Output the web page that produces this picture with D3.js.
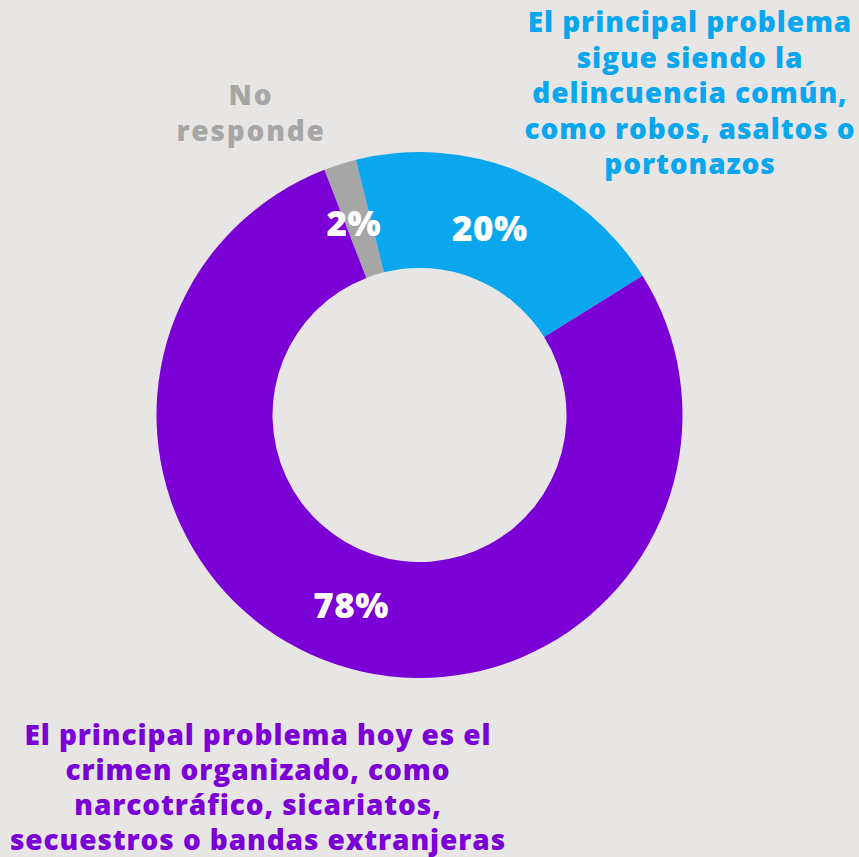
<!DOCTYPE html>
<html><head><meta charset="utf-8">
<script src="https://cdn.jsdelivr.net/npm/d3@7"></script>
<style>
html,body{margin:0;padding:0;background:#e8e6e5;}
svg{display:block;}
text{font-family:"Open Sans",sans-serif;font-weight:800;}
</style></head>
<body>
<svg id="c" width="859" height="857"></svg>
<script>
const categories = ["No responde", "El principal problema sigue siendo la delincuencia común, como robos, asaltos o portonazos", "El principal problema hoy es el crimen organizado, como narcotráfico, sicariatos, secuestros o bandas extranjeras"];
const values = [2, 20, 78];
const valueLabels = ["2%", "20%", "78%"];
const colors = ["#a6a6a6", "#0aa6ee", "#7b00d6"];
const labelLines = [
  ["No", "responde"],
  ["El principal problema", "sigue siendo la", "delincuencia común,", "como robos, asaltos o", "portonazos"],
  ["El principal problema hoy es el", "crimen organizado, como", "narcotráfico, sicariatos,", "secuestros o bandas extranjeras"]
];

const svg = d3.select("#c");
const W = 859, H = 857;
svg.append("rect").attr("width", W).attr("height", H).attr("fill", "#e8e6e5");

const cx = 419.5, cy = 415, rOuter = 263, rInner = 147;
const start = -21.2 * Math.PI / 180;
const pie = d3.pie().sort(null).value(d => d).startAngle(start).endAngle(start + 2 * Math.PI);
const arcs = pie(values);
const arc = d3.arc().innerRadius(rInner).outerRadius(rOuter);
const labelArc = d3.arc().innerRadius(201).outerRadius(201);

const g = svg.append("g").attr("transform", `translate(${cx},${cy})`);
g.selectAll("path").data(arcs).join("path")
  .attr("d", arc).attr("fill", (d, i) => colors[i]);

g.selectAll("text.pct").data(arcs).join("text")
  .attr("class", "pct")
  .attr("transform", d => `translate(${labelArc.centroid(d)})`)
  .attr("text-anchor", "middle").attr("dx", -5).attr("dy", "0.36em")
  .attr("fill", "#ffffff").attr("font-size", 35).attr("letter-spacing", 0.5)
  .text((d, i) => valueLabels[i]);

// category labels
const labelPos = [
  {x: 251, y: 95, lh: 36, fs: 28, ls: 1.8},
  {x: 690, y: 22, lh: 35.5, fs: 28, ls: 0.9},
  {x: 258, y: 735, lh: 35, fs: 28, ls: 0.9}
];
labelLines.forEach((lines, i) => {
  const p = labelPos[i];
  const t = svg.append("text").attr("text-anchor", "middle")
    .attr("fill", colors[i]).attr("font-size", p.fs).attr("letter-spacing", p.ls);
  lines.forEach((l, j) => {
    t.append("tspan").attr("x", p.x).attr("y", p.y + j * p.lh).attr("dy", "0.36em").text(l);
  });
});
</script>
</body></html>
